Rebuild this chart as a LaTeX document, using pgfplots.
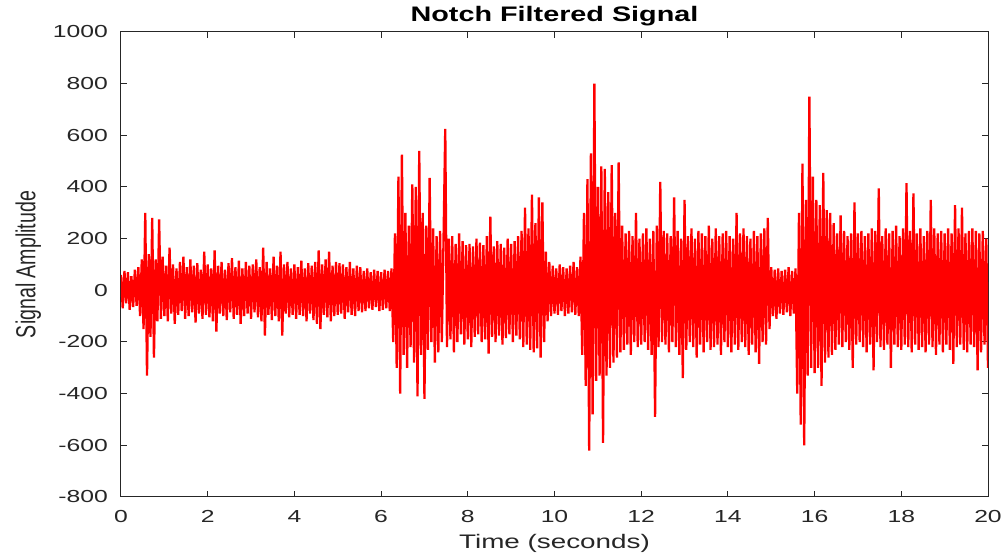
\documentclass[border=0pt]{standalone}
\usepackage{fontspec}
\setmainfont{Liberation Sans}
\usepackage{graphicx}
\usepackage{pgfplots}
\pgfplotsset{compat=1.18}
\definecolor{axgray}{RGB}{38,38,38}
\begin{document}
\begin{tikzpicture}
\begin{axis}[
  name=ax, scale only axis, width=433.5pt, height=232.5pt,
  xmin=0, xmax=20, ymin=-800, ymax=1000,
  xtick={0,2,...,20}, ytick={-800,-600,...,1000},
  tick align=inside, major tick length=3pt,
  axis line style={draw=axgray, line width=0.5pt},
  every tick/.style={axgray, line width=0.5pt},
  /pgf/number format/assume math mode=true,
  /pgf/number format/1000 sep={},
  ticklabel style={font=\fontsize{8.7}{10}\selectfont, text=axgray},
  xticklabel style={yshift=-3pt},
  yticklabel style={xshift=-3pt},
  xticklabel={\scalebox{1.42}[1]{\pgfmathprintnumber{\tick}}},
  yticklabel={\scalebox{1.42}[1]{\pgfmathprintnumber{\tick}}},
  xlabel={\scalebox{1.42}[1]{Time (seconds)}},
  ylabel={\scalebox{1}[1.4]{Signal Amplitude}},
  title={\scalebox{1.37}[1]{\bfseries Notch Filtered Signal}},
  xlabel style={font=\fontsize{9.8}{11}\selectfont, text=axgray, at={(axis description cs:0.5,-0.099)}, anchor=center},
  ylabel style={font=\fontsize{9.8}{11}\selectfont, text=axgray, at={(axis description cs:-0.107,0.5)}, anchor=center},
  every axis title/.style={font=\fontsize{10.5}{12}\selectfont, text=black, at={(axis description cs:0.5,1)}, anchor=base, yshift=5pt},
  clip=true,
]
\addplot[red, line width=1.15pt, line join=bevel] coordinates {
(0.00,60) (0.04,-70) (0.08,75) (0.12,-50) (0.16,70) (0.20,-75) (0.24,55) (0.28,-65) (0.32,80) (0.36,-60) (0.40,90) (0.44,-100) (0.48,120) (0.52,-150) (0.56,300) (0.60,-330) (0.64,140) (0.68,-180) (0.72,280) (0.76,-260) (0.80,120) (0.84,-120) (0.88,275) (0.92,-110) (0.96,130)
(1.00,-100) (1.04,95) (1.08,-120) (1.12,165) (1.16,-90) (1.20,100) (1.24,-130) (1.28,85) (1.32,-95) (1.36,110) (1.40,-80) (1.44,130) (1.48,-110) (1.52,90) (1.56,-100) (1.60,120) (1.64,-85) (1.68,95) (1.72,-125) (1.76,105) (1.80,-90) (1.84,80) (1.88,-110) (1.92,150) (1.96,-95)
(2.00,100) (2.04,-105) (2.08,85) (2.12,-120) (2.16,155) (2.20,-160) (2.24,95) (2.28,-90) (2.32,110) (2.36,-100) (2.40,80) (2.44,-115) (2.48,105) (2.52,-85) (2.56,125) (2.60,-110) (2.64,90) (2.68,-95) (2.72,115) (2.76,-130) (2.80,85) (2.84,-100) (2.88,110) (2.92,-90) (2.96,95)
(3.00,-110) (3.04,100) (3.08,-85) (3.12,120) (3.16,-105) (3.20,90) (3.24,-120) (3.28,165) (3.32,-175) (3.36,110) (3.40,-95) (3.44,85) (3.48,-115) (3.52,130) (3.56,-100) (3.60,95) (3.64,-120) (3.68,150) (3.72,-175) (3.76,100) (3.80,-90) (3.84,110) (3.88,-105) (3.92,85) (3.96,-95)
(4.00,100) (4.04,-110) (4.08,90) (4.12,-95) (4.16,115) (4.20,-100) (4.24,85) (4.28,-120) (4.32,105) (4.36,-90) (4.40,95) (4.44,-115) (4.48,110) (4.52,-130) (4.56,155) (4.60,-150) (4.64,100) (4.68,-95) (4.72,120) (4.76,-105) (4.80,150) (4.84,-120) (4.88,95) (4.92,-100) (4.96,110)
(5.00,-95) (5.04,105) (5.08,-90) (5.12,100) (5.16,-110) (5.20,90) (5.24,-85) (5.28,110) (5.32,-95) (5.36,85) (5.40,-100) (5.44,95) (5.48,-80) (5.52,90) (5.56,-85) (5.60,75) (5.64,-80) (5.68,85) (5.72,-70) (5.76,70) (5.80,-75) (5.84,80) (5.88,-65) (5.92,75) (5.96,-80)
(6.00,70) (6.04,-75) (6.08,80) (6.12,-70) (6.16,75) (6.20,-80) (6.24,85) (6.28,-200) (6.32,220) (6.36,-300) (6.40,440) (6.44,-400) (6.48,525) (6.52,-250) (6.56,300) (6.60,-300) (6.64,250) (6.68,-220) (6.72,410) (6.76,-280) (6.80,400) (6.84,-410) (6.88,540) (6.92,-250) (6.96,300)
(7.00,-420) (7.04,250) (7.08,-230) (7.12,435) (7.16,-200) (7.20,240) (7.24,-280) (7.28,210) (7.32,-240) (7.36,230) (7.40,-200) (7.44,190) (7.48,625) (7.52,-220) (7.56,200) (7.60,-190) (7.64,210) (7.68,-240) (7.72,180) (7.76,-200) (7.80,220) (7.84,-170) (7.88,190) (7.92,-210) (7.96,175)
(8.00,-190) (8.04,180) (8.08,-220) (8.12,170) (8.16,-180) (8.20,200) (8.24,-170) (8.28,185) (8.32,-200) (8.36,175) (8.40,-190) (8.44,210) (8.48,-245) (8.52,285) (8.56,-180) (8.60,170) (8.64,-200) (8.68,190) (8.72,-175) (8.76,180) (8.80,-210) (8.84,165) (8.88,-185) (8.92,200) (8.96,-170)
(9.00,180) (9.04,-200) (9.08,190) (9.12,-175) (9.16,210) (9.20,-190) (9.24,230) (9.28,-220) (9.32,320) (9.36,-210) (9.40,240) (9.44,-230) (9.48,370) (9.52,-240) (9.56,260) (9.60,-225) (9.64,360) (9.68,-260) (9.72,340) (9.76,-200) (9.80,150) (9.84,-120) (9.88,110) (9.92,-100) (9.96,95)
(10.00,-90) (10.04,85) (10.08,-95) (10.12,100) (10.16,-80) (10.20,90) (10.24,-100) (10.28,85) (10.32,-90) (10.36,95) (10.40,-85) (10.44,110) (10.48,-95) (10.52,90) (10.56,-100) (10.60,130) (10.64,-250) (10.68,300) (10.72,-370) (10.76,430) (10.80,-620) (10.84,530) (10.88,-480) (10.92,800) (10.96,-350)
(11.00,400) (11.04,-330) (11.08,480) (11.12,-590) (11.16,470) (11.20,-330) (11.24,380) (11.28,-300) (11.32,485) (11.36,-280) (11.40,300) (11.44,-260) (11.48,495) (11.52,-240) (11.56,250) (11.60,-230) (11.64,220) (11.68,-210) (11.72,230) (11.76,-250) (11.80,210) (11.84,-200) (11.88,300) (11.92,-220) (11.96,200)
(12.00,-210) (12.04,220) (12.08,-200) (12.12,240) (12.16,-230) (12.20,200) (12.24,-250) (12.28,230) (12.32,-490) (12.36,250) (12.40,-220) (12.44,420) (12.48,-200) (12.52,230) (12.56,-210) (12.60,220) (12.64,-240) (12.68,210) (12.72,-200) (12.76,360) (12.80,-220) (12.84,230) (12.88,-250) (12.92,200) (12.96,-340)
(13.00,350) (13.04,-230) (13.08,210) (13.12,-200) (13.16,240) (13.20,-220) (13.24,200) (13.28,-260) (13.32,230) (13.36,-210) (13.40,220) (13.44,-240) (13.48,210) (13.52,-200) (13.56,250) (13.60,-230) (13.64,200) (13.68,-220) (13.72,240) (13.76,-210) (13.80,210) (13.84,-250) (13.88,220) (13.92,-200) (13.96,230)
(14.00,-220) (14.04,210) (14.08,-240) (14.12,200) (14.16,-210) (14.20,300) (14.24,-230) (14.28,220) (14.32,-200) (14.36,240) (14.40,-220) (14.44,210) (14.48,-250) (14.52,200) (14.56,-210) (14.60,230) (14.64,-240) (14.68,210) (14.72,-285) (14.76,220) (14.80,-200) (14.84,240) (14.88,-210) (14.92,280) (14.96,-150)
(15.00,90) (15.04,-100) (15.08,80) (15.12,-110) (15.16,85) (15.20,-90) (15.24,75) (15.28,-95) (15.32,80) (15.36,-85) (15.40,90) (15.44,-100) (15.48,75) (15.52,-90) (15.56,85) (15.60,-400) (15.64,300) (15.68,-520) (15.72,490) (15.76,-600) (15.80,350) (15.84,-330) (15.88,750) (15.92,-300) (15.96,440)
(16.00,-320) (16.04,350) (16.08,-300) (16.12,330) (16.16,-370) (16.20,455) (16.24,-280) (16.28,310) (16.32,-260) (16.36,300) (16.40,-250) (16.44,260) (16.48,-230) (16.52,220) (16.56,-210) (16.60,290) (16.64,-220) (16.68,230) (16.72,-200) (16.76,210) (16.80,-230) (16.84,220) (16.88,-300) (16.92,340) (16.96,-210)
(17.00,220) (17.04,-200) (17.08,230) (17.12,-220) (17.16,210) (17.20,-240) (17.24,220) (17.28,-210) (17.32,240) (17.36,-310) (17.40,230) (17.44,-200) (17.48,395) (17.52,-220) (17.56,210) (17.60,-230) (17.64,240) (17.68,-210) (17.72,220) (17.76,-300) (17.80,230) (17.84,-210) (17.88,250) (17.92,-220) (17.96,210)
(18.00,-230) (18.04,240) (18.08,-210) (18.12,415) (18.16,-220) (18.20,230) (18.24,-240) (18.28,375) (18.32,-210) (18.36,220) (18.40,-230) (18.44,240) (18.48,-220) (18.52,210) (18.56,-240) (18.60,230) (18.64,-210) (18.68,350) (18.72,-220) (18.76,240) (18.80,-250) (18.84,220) (18.88,-210) (18.92,230) (18.96,-240)
(19.00,220) (19.04,-210) (19.08,240) (19.12,-230) (19.16,220) (19.20,-285) (19.24,330) (19.28,-220) (19.32,240) (19.36,-210) (19.40,320) (19.44,-230) (19.48,220) (19.52,-240) (19.56,230) (19.60,-210) (19.64,240) (19.68,-220) (19.72,230) (19.76,-310) (19.80,220) (19.84,-240) (19.88,230) (19.92,-210) (19.96,200) (20.00,-300)
};
\end{axis}
\pgfresetboundingbox
\path ([xshift=-60.5pt,yshift=-29.5pt]ax.south west) rectangle ([xshift=10pt,yshift=16pt]ax.north east);
\end{tikzpicture}
\end{document}
